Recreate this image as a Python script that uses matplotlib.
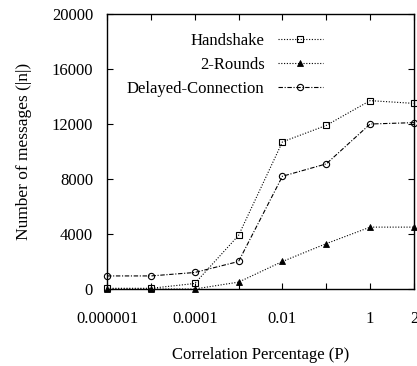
import matplotlib
matplotlib.use("Agg")
import matplotlib.pyplot as plt

plt.rcParams['font.family'] = ['Liberation Serif', 'DejaVu Serif']

x_values = ["0.000001", "0.00001", "0.0001", "0.001", "0.01", "0.1", "1", "2"]
tick_labels = ["0.000001", "", "0.0001", "", "0.01", "", "1", "2"]
handshake = [50, 50, 400, 3900, 10700, 11900, 13700, 13500]
two_rounds = [0, 0, 0, 500, 2000, 3300, 4500, 4500]
delayed = [950, 950, 1200, 2000, 8200, 9100, 12000, 12100]

pos = list(range(len(x_values)))

fig = plt.figure(figsize=(4.17, 3.66), dpi=100)
ax = fig.add_axes([0.2566, 0.2104, 0.7362, 0.7513])

ax.plot(pos, handshake, linestyle=(0, (1, 1.5)), color='black', lw=0.8,
        marker='s', markersize=4.5, markerfacecolor='none', markeredgewidth=0.8,
        label='Handshake', clip_on=False)
ax.plot(pos, two_rounds, linestyle=(0, (1, 1.5)), color='black', lw=0.8,
        marker='^', markersize=4, markerfacecolor='black', markeredgewidth=0.6,
        label='2-Rounds', clip_on=False)
ax.plot(pos, delayed, linestyle=(0, (4, 1.5, 1, 1.5)), color='black', lw=0.8,
        marker='o', markersize=4.5, markerfacecolor='none', markeredgewidth=0.8,
        label='Delayed-Connection', clip_on=False)

ax.set_xlim(0, 7)
ax.set_ylim(0, 20000)
ax.set_xticks(pos)
ax.set_xticklabels(tick_labels)
ax.set_yticks([0, 4000, 8000, 12000, 16000, 20000])
ax.tick_params(direction='in', top=True, right=True, labelsize=12, length=4, width=0.8)
ax.tick_params(axis='x', pad=16)
ax.tick_params(axis='y', pad=10)
for s in ax.spines.values():
    s.set_linewidth(1.0)

ax.set_xlabel('Correlation Percentage (P)', fontsize=12, labelpad=14)
ax.set_ylabel('Number of messages (|n|)', fontsize=12.5, labelpad=14)

leg = ax.legend(loc='upper left', bbox_to_anchor=(0.027, 0.975), frameon=False,
                markerfirst=False, fontsize=12, handlelength=2.7,
                labelspacing=0.5, handletextpad=0.8, borderaxespad=0.3)

fig.savefig('out.png', dpi=100)
